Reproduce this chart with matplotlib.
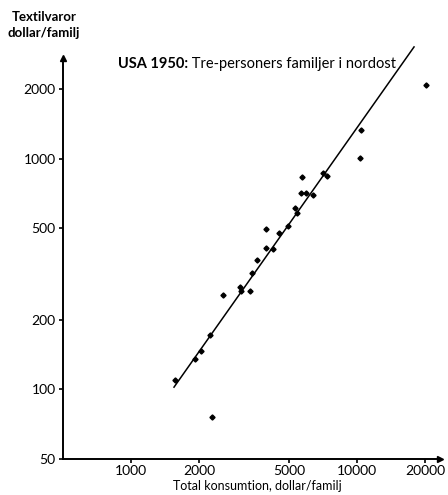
import matplotlib.pyplot as plt
from matplotlib.ticker import FixedLocator, NullLocator

plt.rcParams['font.family'] = ['Lato', 'DejaVu Sans']

# Data (total consumption vs textile spending, $/family)
konsumtion = [1556, 1913, 2029, 2230, 2284, 2554, 3018, 3058, 3352, 3410,
              3611, 3934, 4251, 3934, 4518, 4922, 5320, 5413, 5636, 5932,
              6351, 5713, 7075, 7326, 10250, 10356, 20080]
textil = [110, 135, 146, 172, 76, 256, 278, 266, 266, 320,
          365, 410, 407, 496, 478, 512, 609, 582, 708, 711,
          694, 829, 863, 843, 1003, 1338, 2093]

# fitted line, endpoints
line_x = [1545, 17830]
line_y = [102, 3055]

x_ticks = [1000, 2000, 5000, 10000, 20000]
y_ticks = [50, 100, 200, 500, 1000, 2000]

W, H = 448, 495
fig = plt.figure(figsize=(W / 100, H / 100), dpi=100)
ax = fig.add_axes([62.7 / W, 36.5 / H, (440 - 62.7) / W, (458.5 - 58) / H])

ax.plot(konsumtion, textil, 'D', color='black', markersize=2.6)
ax.plot(line_x, line_y, '-', color='black', linewidth=1.1, clip_on=False)

ax.set_xscale('log')
ax.set_yscale('log')
ax.set_xlim(497, 23230)
ax.set_ylim(50, 2735)

ax.xaxis.set_major_locator(FixedLocator(x_ticks))
ax.yaxis.set_major_locator(FixedLocator(y_ticks))
ax.xaxis.set_minor_locator(NullLocator())
ax.yaxis.set_minor_locator(NullLocator())
ax.set_xticklabels([str(v) for v in x_ticks])
ax.set_yticklabels([str(v) for v in y_ticks])
ax.tick_params(axis='both', direction='out', length=3, width=1.2,
               labelsize=10, pad=2)

for side in ['top', 'right']:
    ax.spines[side].set_visible(False)
for side in ['left', 'bottom']:
    ax.spines[side].set_linewidth(1.4)

# arrow heads at the axis ends
ax.plot(1, 0, '>k', markersize=5, transform=ax.transAxes, clip_on=False)
ax.plot(0, 1, '^k', markersize=5, transform=ax.transAxes, clip_on=False)

t1 = fig.text(118 / W, 1 - 68 / H, 'USA 1950:', fontsize=10.5,
              fontweight='bold', ha='left', va='baseline')
ax.annotate(' Tre-personers familjer i nordost', xy=(1, 0), xycoords=t1,
            fontsize=10.5, ha='left', va='bottom')

fig.text(44 / W, 1 - 25 / H, 'Textilvaror\ndollar/familj', fontsize=9.5,
         fontweight='bold', ha='center', va='center', linespacing=1.4)
fig.text(257 / W, 1 - 486 / H, 'Total konsumtion, dollar/familj',
         fontsize=9, ha='center', va='center')

fig.savefig('out.png', dpi=100)
